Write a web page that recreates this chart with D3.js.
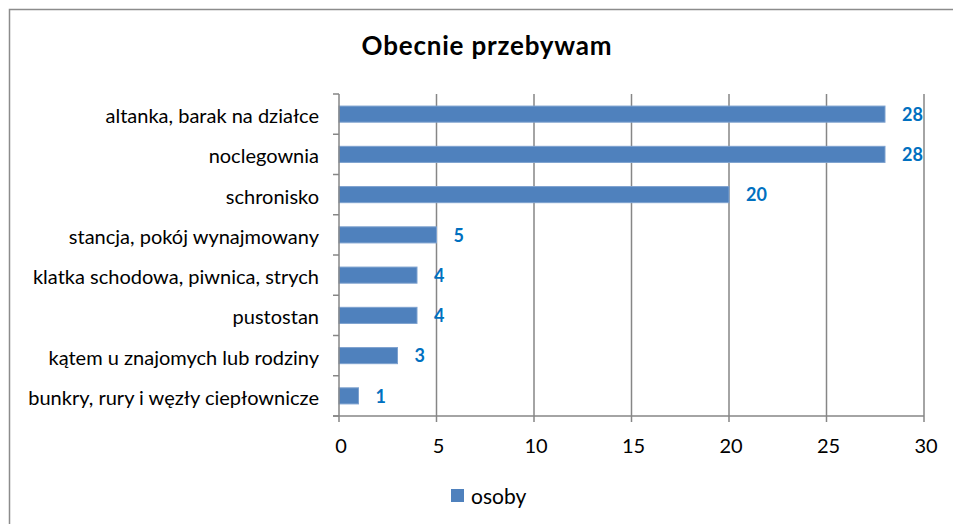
<!DOCTYPE html>
<html>
<head>
<meta charset="utf-8">
<script src="https://cdn.jsdelivr.net/npm/d3@7"></script>
<style>
  body { margin: 0; background: #fff; }
  svg { display: block; font-family: Lato, "Open Sans", sans-serif; }
</style>
</head>
<body>
<svg id="chart" width="953" height="524"></svg>
<script>
const categories = [
    "altanka, barak na działce",
    "noclegownia",
    "schronisko",
    "stancja, pokój wynajmowany",
    "klatka schodowa, piwnica, strych",
    "pustostan",
    "kątem u znajomych lub rodziny",
    "bunkry, rury i węzły ciepłownicze",
];
const values = [28, 28, 20, 5, 4, 4, 3, 1];
const xTicks = [0, 5, 10, 15, 20, 25, 30];
const seriesName = "osoby";
const title = "Obecnie przebywam";

const svg = d3.select("#chart");
const plot = { left: 339, right: 924, top: 94, bottom: 416 };

// chart frame
svg.append("rect")
    .attr("x", 9.5).attr("y", 9.5)
    .attr("width", 960).attr("height", 540)
    .attr("fill", "none")
    .attr("stroke", "#8c8c8c")
    .attr("stroke-width", 1.5);

svg.append("text")
    .attr("x", 487).attr("y", 55)
    .attr("text-anchor", "middle")
    .attr("font-size", 26)
    .attr("font-weight", "bold")
    .attr("letter-spacing", 0.8)
    .attr("fill", "#000")
    .text(title);

const x = d3.scaleLinear().domain([0, 30]).range([plot.left, plot.right]);
const y = d3.scaleBand().domain(categories).range([plot.top, plot.bottom]).paddingInner(0.6).paddingOuter(0.3);
const yEdges = d3.scaleLinear().domain([0, categories.length]).range([plot.top, plot.bottom]);

// gridlines
svg.append("g")
    .selectAll("line")
    .data(xTicks.slice(1))
    .join("line")
    .attr("x1", (d) => x(d)).attr("x2", (d) => x(d))
    .attr("y1", plot.top).attr("y2", plot.bottom + 6)
    .attr("stroke", "#868686")
    .attr("stroke-width", 1.5);

// bars
svg.append("g")
    .selectAll("rect")
    .data(values)
    .join("rect")
    .attr("x", x(0))
    .attr("y", (d, i) => y(categories[i]))
    .attr("width", (d) => x(d) - x(0))
    .attr("height", y.bandwidth())
    .attr("fill", "#4f81bd")
    .attr("stroke", "#7da1cf")
    .attr("stroke-width", 1);

// y axis line and ticks
svg.append("line")
    .attr("x1", x(0)).attr("x2", x(0))
    .attr("y1", plot.top).attr("y2", plot.bottom + 6)
    .attr("stroke", "#868686").attr("stroke-width", 1.5);
svg.append("g")
    .selectAll("line")
    .data(d3.range(categories.length + 1))
    .join("line")
    .attr("x1", x(0) - 6).attr("x2", x(0))
    .attr("y1", (d) => yEdges(d)).attr("y2", (d) => yEdges(d))
    .attr("stroke", "#868686").attr("stroke-width", 1.5);

// x axis line
svg.append("line")
    .attr("x1", x(0) - 6).attr("x2", x(30))
    .attr("y1", plot.bottom).attr("y2", plot.bottom)
    .attr("stroke", "#868686").attr("stroke-width", 1.5);

// category labels
svg.append("g")
    .selectAll("text")
    .data(categories)
    .join("text")
    .attr("x", 319)
    .attr("y", (d) => y(d) + y.bandwidth() / 2)
    .attr("dy", "0.45em")
    .attr("text-anchor", "end")
    .attr("font-size", 20)
    .attr("fill", "#000")
    .text((d) => d);

// x tick labels
svg.append("g")
    .selectAll("text")
    .data(xTicks)
    .join("text")
    .attr("x", (d) => x(d) + 2)
    .attr("y", 453)
    .attr("text-anchor", "middle")
    .attr("font-size", 20)
    .attr("fill", "#000")
    .text((d) => d);

// value labels
svg.append("g")
    .selectAll("text")
    .data(values)
    .join("text")
    .attr("x", (d) => x(d) + 17)
    .attr("y", (d, i) => y(categories[i]) + y.bandwidth() / 2)
    .attr("dy", "0.38em")
    .attr("font-size", 18)
    .attr("font-weight", "bold")
    .attr("fill", "#0070c0")
    .text((d) => d);

// legend
svg.append("rect")
    .attr("x", 451).attr("y", 489)
    .attr("width", 13).attr("height", 13)
    .attr("fill", "#4f81bd");
svg.append("text")
    .attr("x", 471).attr("y", 504)
    .attr("font-size", 21)
    .attr("fill", "#000")
    .text(seriesName);
</script>
</body>
</html>
